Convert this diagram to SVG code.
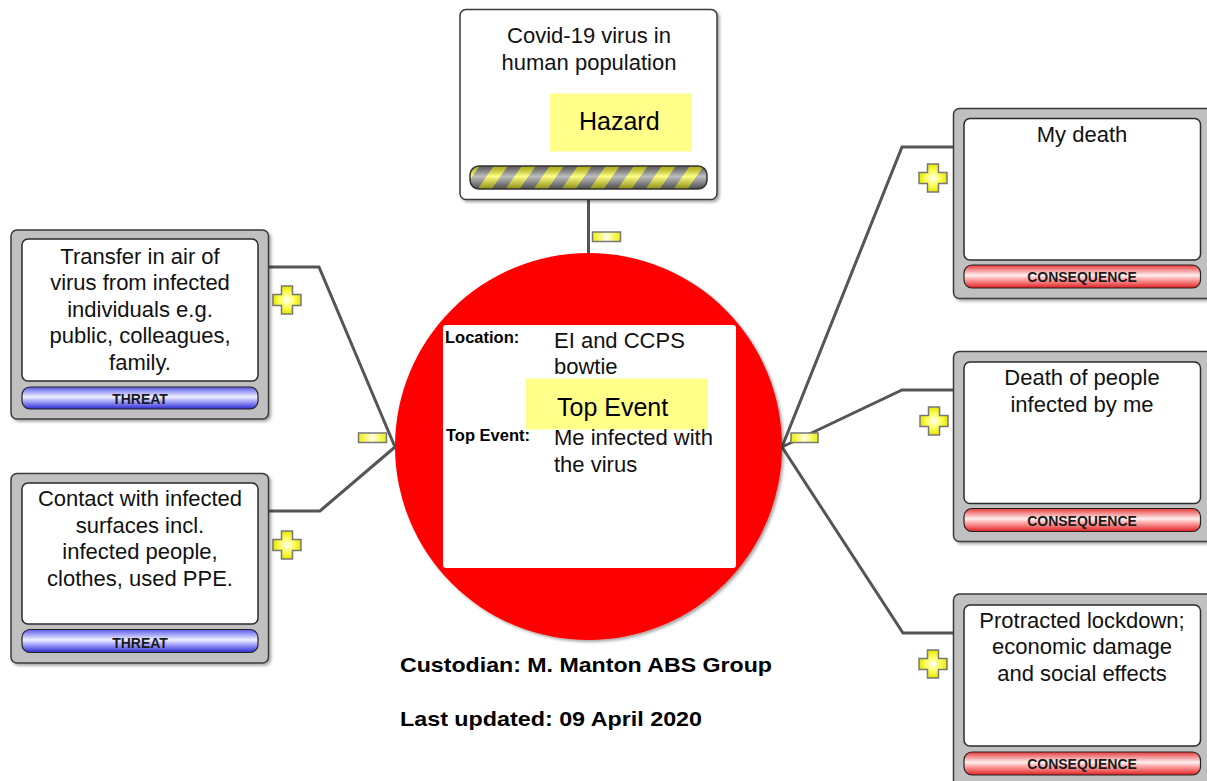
<svg xmlns="http://www.w3.org/2000/svg" width="1207" height="781" viewBox="0 0 1207 781">
<style>
.txt{font-family:"Liberation Sans",Arial,sans-serif;font-size:22px;fill:#111;text-anchor:middle}
.lbl{font-family:"Liberation Sans",Arial,sans-serif;font-size:25px;fill:#000}
.bold{font-family:"Liberation Sans",Arial,sans-serif;font-weight:bold;fill:#000}
.bartxt{font-family:"Liberation Sans",Arial,sans-serif;font-weight:bold;font-size:14px;fill:#1a1a1a;text-anchor:middle}
.outer{fill:#c0c0c0;stroke:#3a3a3a;stroke-width:1.5}
.inner{fill:#fff;stroke:#2a2a2a;stroke-width:1.5}
.conn{fill:none;stroke:#555;stroke-width:3;stroke-linejoin:miter}
.plus{fill:url(#yel);stroke:#777;stroke-width:1.5}
.minus{fill:url(#yelH);stroke:#777;stroke-width:1.5}
.ylab{fill:#ffff8a}
</style>
<defs>
<filter id="sh" x="-10%" y="-10%" width="125%" height="125%">
<feDropShadow dx="2" dy="2" stdDeviation="1.8" flood-color="#000" flood-opacity="0.35"/>
</filter>
<linearGradient id="blue" x1="0" y1="0" x2="0" y2="1">
<stop offset="0" stop-color="#5a5aea"/>
<stop offset="0.45" stop-color="#f0f0ff"/>
<stop offset="0.6" stop-color="#b8b8ff"/>
<stop offset="1" stop-color="#2a2ad0"/>
</linearGradient>
<linearGradient id="red" x1="0" y1="0" x2="0" y2="1">
<stop offset="0" stop-color="#e83a3a"/>
<stop offset="0.45" stop-color="#fff0f0"/>
<stop offset="0.6" stop-color="#ffb0b0"/>
<stop offset="1" stop-color="#e02020"/>
</linearGradient>
<radialGradient id="yel" cx="0.5" cy="0.5" r="0.5">
<stop offset="0" stop-color="#ffffff"/>
<stop offset="0.5" stop-color="#ffff60"/>
<stop offset="1" stop-color="#e6e600"/>
</radialGradient>
<linearGradient id="yelH" x1="0" y1="0" x2="1" y2="0">
<stop offset="0" stop-color="#f0f000"/>
<stop offset="0.5" stop-color="#ffffe0"/>
<stop offset="1" stop-color="#f0f000"/>
</linearGradient>
<linearGradient id="grayBar" x1="0" y1="0" x2="0" y2="1">
<stop offset="0" stop-color="#444"/>
<stop offset="0.45" stop-color="#e0e0e0"/>
<stop offset="1" stop-color="#333"/>
</linearGradient>
<linearGradient id="shade" x1="0" y1="0" x2="0" y2="1">
<stop offset="0" stop-color="#000" stop-opacity="0.35"/>
<stop offset="0.45" stop-color="#fff" stop-opacity="0.45"/>
<stop offset="1" stop-color="#000" stop-opacity="0.45"/>
</linearGradient>
<pattern id="stripes" patternUnits="userSpaceOnUse" x="470" y="166" width="28" height="24" patternTransform="skewX(-35)">
<rect x="0" y="0" width="14" height="24" fill="#ffff20"/>
</pattern>
<clipPath id="barClip"><rect x="470" y="166" width="237" height="23" rx="9"/></clipPath>
<path id="plusShape" d="M-5.5,-14 h11 v8.5 h8.5 v11 h-8.5 v8.5 h-11 v-8.5 h-8.5 v-11 h8.5 z"/>
</defs>

<rect width="1207" height="781" fill="#fff"/>

<g id="connectors">
<line class="conn" x1="588.5" y1="199" x2="588.5" y2="254"/>
<polyline class="conn" points="269,267 319,267 395,447"/>
<polyline class="conn" points="269,511 320,511 395,447"/>
<polyline class="conn" points="953,147 902,147 782,447"/>
<polyline class="conn" points="953,390 902,390 782,447"/>
<polyline class="conn" points="953,633 903,633 782,447"/>
<rect class="minus" x="592.5" y="232" width="28" height="9.5"/>
<rect class="minus" x="358.5" y="433" width="28" height="9.5"/>
<rect class="minus" x="791" y="433" width="27" height="9.5"/>
<use href="#plusShape" class="plus" x="287" y="300"/>
<use href="#plusShape" class="plus" x="287" y="545"/>
<use href="#plusShape" class="plus" x="933" y="178"/>
<use href="#plusShape" class="plus" x="934" y="421"/>
<use href="#plusShape" class="plus" x="933" y="664"/>
</g>

<g id="hazard">
<rect x="460" y="9.5" width="257" height="190" rx="6" fill="#fff" stroke="#3a3a3a" stroke-width="1.5" filter="url(#sh)"/>
<text class="txt" x="589" y="43">Covid-19 virus in</text>
<text class="txt" x="589" y="70">human population</text>
<rect class="ylab" x="550" y="93.5" width="141" height="58"/>
<text class="lbl" x="579" y="130">Hazard</text>
<g clip-path="url(#barClip)">
<rect x="470" y="166" width="237" height="23" fill="#8a8a8a"/>
<rect x="440" y="166" width="300" height="23" fill="url(#stripes)"/>
<rect x="470" y="166" width="237" height="23" fill="url(#shade)"/>
</g>
<rect x="470" y="166" width="237" height="23" rx="9" fill="none" stroke="#333" stroke-width="1.5"/>
</g>

<g id="top-event">
<circle cx="588.5" cy="446.5" r="193.5" fill="#ff0000" filter="url(#sh)"/>
<rect x="443" y="325" width="293" height="243" rx="3" fill="#fff"/>
<text class="bold" x="445" y="343" font-size="16.5">Location:</text>
<text class="txt" x="554" y="347.5" style="text-anchor:start">EI and CCPS</text>
<text class="txt" x="554" y="374" style="text-anchor:start">bowtie</text>
<rect class="ylab" x="526" y="378.5" width="182" height="51"/>
<text class="lbl" x="557" y="416">Top Event</text>
<text class="bold" x="446" y="441" font-size="16.5">Top Event:</text>
<text class="txt" x="554" y="445" style="text-anchor:start">Me infected with</text>
<text class="txt" x="554" y="472" style="text-anchor:start">the virus</text>
</g>

<g id="threat-1">
<rect class="outer" x="11" y="230" width="257.5" height="189" rx="6" filter="url(#sh)"/>
<rect class="inner" x="22" y="239" width="236" height="142" rx="6"/>
<text class="txt" x="140" y="263.5">Transfer in air of</text>
<text class="txt" x="140" y="290">virus from infected</text>
<text class="txt" x="140" y="316.5">individuals e.g.</text>
<text class="txt" x="140" y="343">public, colleagues,</text>
<text class="txt" x="140" y="369.5">family.</text>
<rect x="22" y="387" width="236" height="22" rx="8" fill="url(#blue)" stroke="#222" stroke-width="1.2"/>
<text class="bartxt" x="140" y="404">THREAT</text>
</g>

<g id="threat-2">
<rect class="outer" x="11" y="473.5" width="257.5" height="189.5" rx="6" filter="url(#sh)"/>
<rect class="inner" x="22" y="483" width="236" height="141" rx="6"/>
<text class="txt" x="140" y="506">Contact with infected</text>
<text class="txt" x="140" y="532.5">surfaces incl.</text>
<text class="txt" x="140" y="559">infected people,</text>
<text class="txt" x="140" y="586">clothes, used PPE.</text>
<rect x="22" y="629.5" width="236" height="23" rx="8" fill="url(#blue)" stroke="#222" stroke-width="1.2"/>
<text class="bartxt" x="140" y="647.5">THREAT</text>
</g>

<g id="consequence-1">
<rect class="outer" x="953.5" y="108.5" width="260" height="190" rx="6" filter="url(#sh)"/>
<rect class="inner" x="964" y="118.5" width="236.5" height="141.5" rx="6"/>
<text class="txt" x="1082" y="141.5">My death</text>
<rect x="964" y="265" width="236.5" height="23" rx="8" fill="url(#red)" stroke="#222" stroke-width="1.2"/>
<text class="bartxt" x="1082" y="282">CONSEQUENCE</text>
</g>

<g id="consequence-2">
<rect class="outer" x="953.5" y="351.5" width="260" height="190" rx="6" filter="url(#sh)"/>
<rect class="inner" x="964" y="362" width="236.5" height="141.5" rx="6"/>
<text class="txt" x="1082" y="385">Death of people</text>
<text class="txt" x="1082" y="411.5">infected by me</text>
<rect x="964" y="508.5" width="236.5" height="23" rx="8" fill="url(#red)" stroke="#222" stroke-width="1.2"/>
<text class="bartxt" x="1082" y="525.5">CONSEQUENCE</text>
</g>

<g id="consequence-3">
<rect class="outer" x="953.5" y="594" width="260" height="195" rx="6" filter="url(#sh)"/>
<rect class="inner" x="964" y="605" width="236.5" height="141" rx="6"/>
<text class="txt" x="1082" y="627.5">Protracted lockdown;</text>
<text class="txt" x="1082" y="654">economic damage</text>
<text class="txt" x="1082" y="680.5">and social effects</text>
<rect x="964" y="752" width="236.5" height="23" rx="8" fill="url(#red)" stroke="#222" stroke-width="1.2"/>
<text class="bartxt" x="1082" y="769">CONSEQUENCE</text>
</g>

<g id="footer">
<text class="bold" x="400" y="672" font-size="21" textLength="372" lengthAdjust="spacingAndGlyphs">Custodian: M. Manton ABS Group</text>
<text class="bold" x="400" y="726" font-size="21" textLength="302" lengthAdjust="spacingAndGlyphs">Last updated: 09 April 2020</text>
</g>
</svg>
